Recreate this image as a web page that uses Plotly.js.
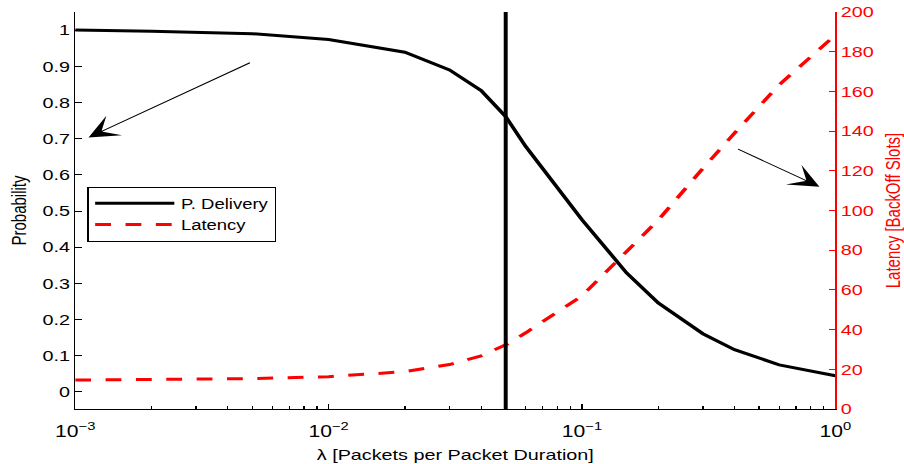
<!DOCTYPE html>
<html>
<head>
<meta charset="utf-8">
<script src="https://cdn.plot.ly/plotly-3.0.1.min.js"></script>
<style>
  html, body { margin: 0; padding: 0; background: #fff; overflow: hidden; }
  /* figure is laid out narrow and stretched horizontally, like the exported figure */
  #chart { width: 685px; height: 464px; transform: scaleX(1.3197); transform-origin: 0 0; }
</style>
</head>
<body>
<div id="chart"></div>
<script>
// Offered load (packets per packet duration)
const lambda = [0.001, 0.002, 0.005, 0.01, 0.02, 0.03, 0.04, 0.05, 0.06, 0.1, 0.15, 0.2, 0.3, 0.4, 0.6, 1];
// Probability of successful delivery
const pDelivery = [1.0, 0.997, 0.990, 0.974, 0.939, 0.890, 0.833, 0.761, 0.678, 0.476, 0.329, 0.246, 0.161, 0.117, 0.075, 0.045];
// Mean latency in back-off slots
const latency = [14.6, 14.8, 15.3, 16.3, 18.8, 22.4, 26.8, 32.3, 38.4, 57.0, 79.4, 95.2, 121.2, 139.0, 163.3, 188.4];
// Operating point marked by the vertical line
const operatingLambda = 0.05;

const xTickVals = [0.001, 0.01, 0.1, 1];
const xTickText = ['10<sup>\u22123</sup>', '10<sup>\u22122</sup>', '10<sup>\u22121</sup>', '10<sup>0</sup>'];

const FONT = 'Liberation Sans, Arial, Helvetica, sans-serif';
const SX = 1.3197;

const traces = [
  {
    x: lambda, y: pDelivery, name: 'P. Delivery', type: 'scatter', mode: 'lines',
    line: { color: '#000000', width: 3 }, xaxis: 'x', yaxis: 'y'
  },
  {
    x: lambda, y: latency, name: 'Latency', type: 'scatter', mode: 'lines',
    line: { color: '#ff0000', width: 3, dash: '12px,11px' }, xaxis: 'x', yaxis: 'y2'
  }
];

const layout = {
  width: 685, height: 464,
  margin: { l: 56.8, r: 51.5, t: 12, b: 55 },
  paper_bgcolor: '#ffffff', plot_bgcolor: '#ffffff',
  font: { family: FONT, color: '#000000', size: 15 },
  showlegend: true,
  legend: {
    x: 0.0158, y: 0.56, xanchor: 'left', yanchor: 'top',
    bgcolor: '#ffffff', bordercolor: '#000000', borderwidth: 1,
    font: { family: FONT, size: 14, color: '#000000' },
    itemwidth: 60, tracegroupgap: 0
  },
  xaxis: {
    type: 'log', range: [-3, 0],
    tickmode: 'array', tickvals: xTickVals, ticktext: xTickText,
    ticks: 'inside', ticklen: 5, tickwidth: 1, tickcolor: '#000000',
    minor: { ticks: 'inside', ticklen: 3, tickcolor: '#000000', dtick: 'D1', showgrid: false },
    showline: true, linecolor: '#000000', linewidth: 1, mirror: false,
    showgrid: false, zeroline: false, ticklabelstandoff: 8,
    tickfont: { family: FONT, size: 16, color: '#000000' },
    title: { text: '\u03bb [Packets per Packet Duration]', font: { family: FONT, size: 15, color: '#000000' }, standoff: 10 }
  },
  yaxis: {
    range: [-0.047, 1.05], tick0: 0, dtick: 0.1,
    ticks: 'inside', ticklen: 5, tickwidth: 1, tickcolor: '#000000',
    showline: true, linecolor: '#000000', linewidth: 1,
    showgrid: false, zeroline: false,
    tickfont: { family: FONT, size: 15, color: '#000000' },
    title: { text: 'Probability', font: { family: FONT, size: 15, color: '#000000' }, standoff: 8 }
  },
  yaxis2: {
    overlaying: 'y', side: 'right', anchor: 'x',
    range: [0, 200], tick0: 0, dtick: 20,
    ticks: 'inside', ticklen: 5, tickwidth: 1, tickcolor: '#ff0000',
    showline: true, linecolor: '#ff0000', linewidth: 1,
    showgrid: false, zeroline: false,
    tickfont: { family: FONT, size: 15, color: '#ff0000' },
    title: { text: 'Latency [BackOff Slots]', font: { family: FONT, size: 15, color: '#ff0000' }, standoff: 11 }
  },
  shapes: [
    { type: 'line', xref: 'x', yref: 'paper', x0: operatingLambda, x1: operatingLambda, y0: 0, y1: 1,
      line: { color: '#000000', width: 3 } }
  ],
  annotations: [
    { xref: 'paper', yref: 'paper', x: 0.0175, y: 0.684, axref: 'pixel', ayref: 'pixel',
      ax: 163.4 / SX, ay: -75.6, text: '', showarrow: true,
      arrowhead: 3, arrowsize: 3.8, arrowwidth: 1, arrowcolor: '#000000', standoff: 0 },
    { xref: 'paper', yref: 'paper', x: 0.979, y: 0.560, axref: 'pixel', ayref: 'pixel',
      ax: -83.3 / SX, ay: -38.4, text: '', showarrow: true,
      arrowhead: 3, arrowsize: 3.8, arrowwidth: 1, arrowcolor: '#000000', standoff: 0 }
  ]
};

Plotly.newPlot('chart', traces, layout, { displayModeBar: false, staticPlot: true });
</script>
</body>
</html>
